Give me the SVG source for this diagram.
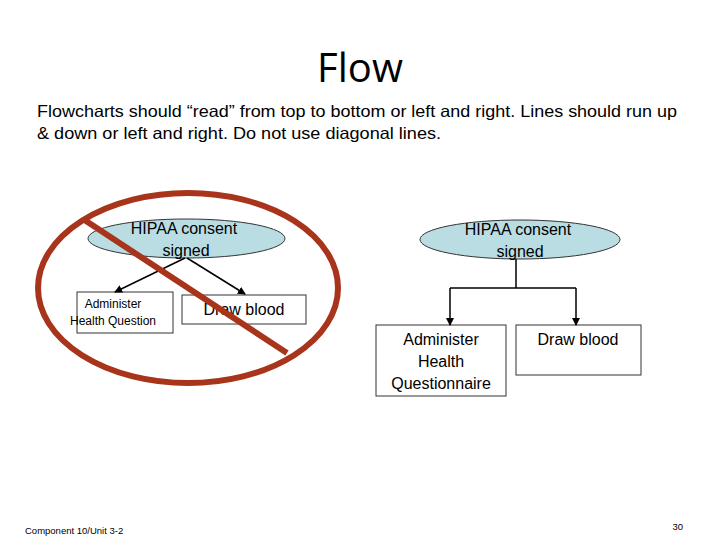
<svg xmlns="http://www.w3.org/2000/svg" width="720" height="540" viewBox="0 0 720 540">
<defs><marker id="ah" markerWidth="8" markerHeight="8" refX="7" refY="4" orient="auto" markerUnits="userSpaceOnUse"><path d="M0,0 L8,4 L0,8 Z" fill="#000"/></marker></defs>
<style>text{font-family:"Liberation Sans",Arial,sans-serif;fill:#000}.pill{fill:#b9dde3;stroke:#333;stroke-width:1}.box{fill:#fff;stroke:#333;stroke-width:1}.c{stroke:#000;stroke-width:1.5;fill:none}</style>
<rect width="720" height="540" fill="#fff"/>
<text x="360" y="82" font-size="40" text-anchor="middle" style="font-family:'Open Sans','Liberation Sans',sans-serif">Flow</text>
<text x="37" y="117" font-size="16.5" textLength="640" lengthAdjust="spacingAndGlyphs">Flowcharts should “read” from top to bottom or left and right. Lines should run up</text>
<text x="37" y="139" font-size="16.5" textLength="404" lengthAdjust="spacingAndGlyphs">&amp; down or left and right.  Do not use diagonal lines.</text>
<g id="left-hipaa"><rect class="pill" x="88" y="219" width="197" height="39" rx="98" ry="19.5"/><text x="184" y="234" font-size="16" text-anchor="middle">HIPAA consent</text><text x="186" y="256" font-size="16" text-anchor="middle">signed</text></g>
<g id="left-admin"><rect class="box" x="77" y="292" width="96" height="41"/><text x="113" y="308" font-size="12" text-anchor="middle">Administer</text><text x="113" y="325" font-size="12" text-anchor="middle">Health Question</text></g>
<g id="left-draw"><rect class="box" x="182" y="295" width="124" height="29"/><text x="244" y="315" font-size="16" text-anchor="middle">Draw blood</text></g>
<g id="right-hipaa"><rect class="pill" x="420" y="220" width="200" height="39" rx="100" ry="19.5"/><text x="518" y="235" font-size="16" text-anchor="middle">HIPAA consent</text><text x="520" y="257" font-size="16" text-anchor="middle">signed</text></g>
<g id="right-admin"><rect class="box" x="376" y="325" width="130" height="71"/><text x="441" y="345" font-size="16" text-anchor="middle">Administer</text><text x="441" y="367" font-size="16" text-anchor="middle">Health</text><text x="441" y="389" font-size="16" text-anchor="middle">Questionnaire</text></g>
<g id="right-draw"><rect class="box" x="516" y="325" width="125" height="50"/><text x="578" y="345" font-size="16" text-anchor="middle">Draw blood</text></g>
<g id="connectors">
<line class="c" x1="185" y1="258" x2="115" y2="292" marker-end="url(#ah)"/>
<line class="c" x1="187" y1="258" x2="245" y2="294" marker-end="url(#ah)"/>
<path class="c" d="M516,259 V288 M450,288 H576"/>
<line class="c" x1="450" y1="288" x2="450" y2="325" marker-end="url(#ah)" stroke-width="2"/>
<line class="c" x1="576" y1="288" x2="576" y2="325" marker-end="url(#ah)" stroke-width="2"/>
</g>
<g id="prohibition"><ellipse cx="188" cy="288" rx="150" ry="95" fill="none" stroke="#a8341c" stroke-width="6"/><line x1="83" y1="219" x2="287" y2="353" stroke="#a8341c" stroke-width="6"/></g>
<text x="25" y="534" font-size="9.5">Component 10/Unit 3-2</text>
<text x="683" y="530" font-size="9.5" text-anchor="end">30</text>
</svg>
